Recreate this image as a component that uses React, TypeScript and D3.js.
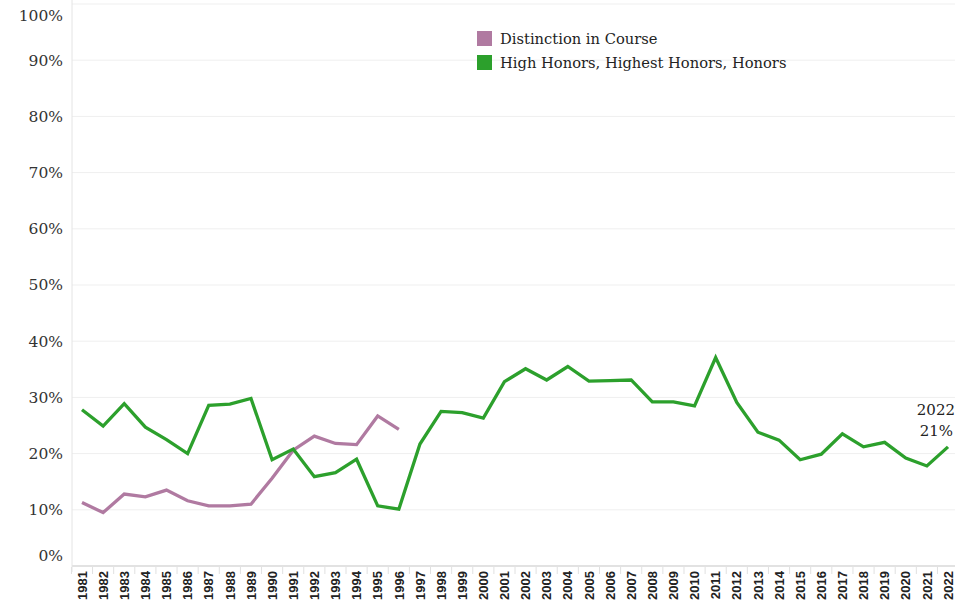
import React, { useRef, useEffect } from 'react';
import * as d3 from 'd3';

const years = d3.range(1981, 2023);

// High Honors, Highest Honors, Honors (%), 1981-2022
const honors = [
  27.8, 24.9, 28.9, 24.7, 22.5, 20.0, 28.6, 28.8, 29.8, 18.9,
  20.8, 15.9, 16.6, 19.0, 10.7, 10.1, 21.7, 27.5, 27.3, 26.3,
  32.8, 35.1, 33.1, 35.5, 32.9, 33.0, 33.1, 29.2, 29.2, 28.5,
  37.1, 29.1, 23.8, 22.4, 18.9, 19.9, 23.5, 21.2, 22.0, 19.2,
  17.8, 21.2,
];

// Distinction in Course (%), 1981-1996
const distinction = [
  11.3, 9.5, 12.8, 12.3, 13.5, 11.6, 10.7, 10.7, 11.0, 15.6,
  20.6, 23.1, 21.8, 21.6, 26.7, 24.3,
];

const yTicks = [0, 10, 20, 30, 40, 50, 60, 70, 80, 90, 100];

const series = [
  { name: 'Distinction in Course', color: '#b07aa1', values: distinction },
  { name: 'High Honors, Highest Honors, Honors', color: '#2ca02c', values: honors },
];

const W = 977;
const H = 605;
const serif = '"DejaVu Serif", serif';

const App = () => {
  const svgRef = useRef<SVGSVGElement>(null);

  useEffect(() => {
    const svg = d3.select(svgRef.current);
    svg.selectAll('*').remove();

    const x = d3.scalePoint<number>().domain(years).range([82, 948]);
    const y = d3.scaleLinear().domain([0, 100]).range([566, 4]);
    const step = x.step();

    // gridlines
    svg
      .append('g')
      .selectAll('line')
      .data(yTicks)
      .join('line')
      .attr('x1', 72)
      .attr('x2', 955)
      .attr('y1', (d) => y(d))
      .attr('y2', (d) => y(d))
      .attr('stroke', (d) => (d === 0 ? '#e2e2e2' : '#efefef'))
      .attr('stroke-width', (d) => (d === 0 ? 2 : 1));

    // left axis line
    svg
      .append('line')
      .attr('x1', 72)
      .attr('x2', 72)
      .attr('y1', 0)
      .attr('y2', 572)
      .attr('stroke', '#e4e4e4');

    // y labels (top/bottom clamped inside the pane)
    svg
      .append('g')
      .selectAll('text')
      .data(yTicks)
      .join('text')
      .attr('x', 63)
      .attr('y', (d) => Math.min(Math.max(y(d), 16), 556))
      .attr('dy', '0.35em')
      .attr('text-anchor', 'end')
      .attr('font-family', serif)
      .attr('font-size', 15.5)
      .attr('fill', '#333')
      .text((d) => `${d}%`);

    // x tick separators
    svg
      .append('g')
      .selectAll('line')
      .data(years)
      .join('line')
      .attr('x1', (d) => (x(d) as number) - step / 2)
      .attr('x2', (d) => (x(d) as number) - step / 2)
      .attr('y1', 567)
      .attr('y2', 574)
      .attr('stroke', '#e0e0e0');

    // x labels
    svg
      .append('g')
      .selectAll('text')
      .data(years)
      .join('text')
      .attr('transform', (d) => `translate(${x(d)},571) rotate(-90)`)
      .attr('dy', '0.36em')
      .attr('text-anchor', 'end')
      .attr('font-family', '"Liberation Sans", Arial, sans-serif')
      .attr('font-weight', 'bold')
      .attr('font-size', 13)
      .attr('fill', '#222')
      .text((d) => d);

    // lines
    const line = d3
      .line<number>()
      .x((_, i) => x(years[i]) as number)
      .y((d) => y(d));

    series.forEach((s) => {
      svg
        .append('path')
        .datum(s.values)
        .attr('d', line)
        .attr('fill', 'none')
        .attr('stroke', s.color)
        .attr('stroke-width', 3.3)
        .attr('stroke-linejoin', 'miter');
    });

    // annotation on last point
    const last = honors[honors.length - 1];
    const ann = svg
      .append('text')
      .attr('font-family', serif)
      .attr('font-size', 15)
      .attr('fill', '#222')
      .attr('text-anchor', 'end');
    ann.append('tspan').attr('x', 955).attr('y', 415).text('2022');
    ann.append('tspan').attr('x', 953).attr('y', 436).text(`${Math.round(last)}%`);

    // legend
    const legend = svg
      .append('g')
      .selectAll('g')
      .data(series)
      .join('g')
      .attr('transform', (_, i) => `translate(477,${31 + i * 24})`);
    legend
      .append('rect')
      .attr('width', 15)
      .attr('height', 15)
      .attr('fill', (d) => d.color);
    legend
      .append('text')
      .attr('x', 23)
      .attr('y', 8)
      .attr('dy', '0.35em')
      .attr('font-family', serif)
      .attr('font-size', 14.7)
      .attr('fill', '#222')
      .text((d) => d.name);
  }, []);

  return (
    <div style={{ position: 'absolute', left: 0, top: 0, background: '#fff' }}>
      <svg ref={svgRef} width={W} height={H} style={{ display: 'block' }}></svg>
    </div>
  );
};

export default App;
